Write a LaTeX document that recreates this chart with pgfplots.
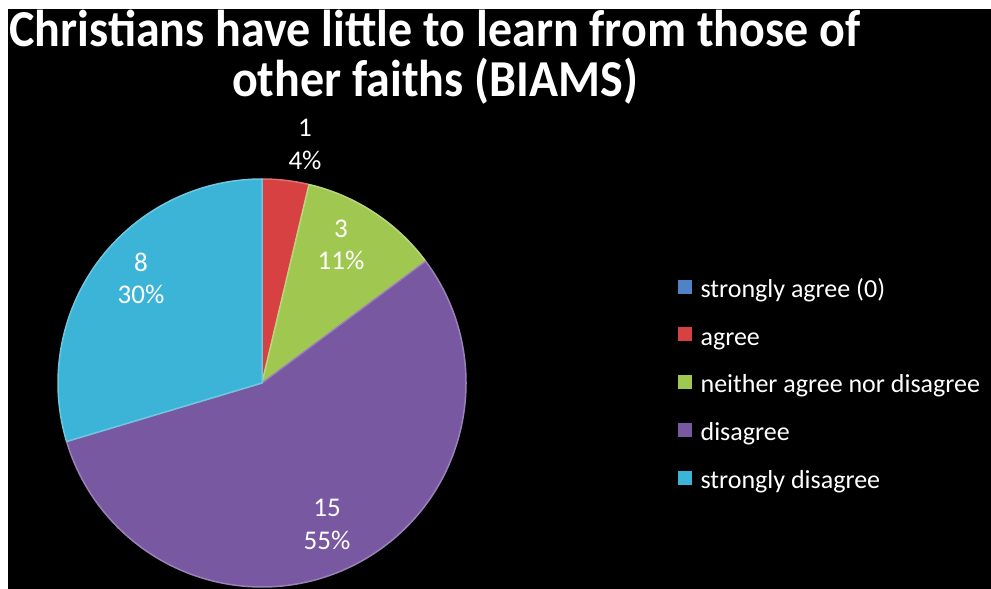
\documentclass[border=0pt]{standalone}
\usepackage{pgfplots}
\pgfplotsset{compat=1.18}
\usepackage{fontspec}
\setmainfont{Carlito}

\definecolor{cblue}{RGB}{80,130,200}
\definecolor{cred}{RGB}{215,65,65}
\definecolor{cgreen}{RGB}{160,200,80}
\definecolor{cpurple}{RGB}{120,88,160}
\definecolor{ccyan}{RGB}{60,180,215}

\begin{document}
\begin{tikzpicture}
\begin{axis}[
    width=991pt, height=589pt,
    scale only axis,
    xmin=0, xmax=991,
    ymin=0, ymax=589,
    hide axis,
    clip=false,
    legend image code/.code={\fill[#1] (0pt,-2pt) rectangle (15pt,13pt);},
    legend cell align=left,
    legend style={
        draw=none, fill=none, text=white,
        font=\fontsize{26}{26}\selectfont,
        at={(axis cs:677,203)}, anchor=west,
        inner sep=0pt,
        nodes={inner sep=0pt, text height=16pt, text depth=5pt},
        row sep=24pt,
        /tikz/every odd column/.append style={column sep=8pt},
    },
]
% background: white frame on top and left, black chart area
\fill[white] (axis cs:0,0) rectangle (axis cs:991,589);
\fill[black] (axis cs:8,0) rectangle (axis cs:991,580);

% pie: values 0,1,3,15,8 (total 27), clockwise from 12 o'clock
\def\total{27}
\gdef\acc{90}
\foreach \v/\c in {0/cblue,1/cred,3/cgreen,15/cpurple,8/ccyan}{
  \pgfmathsetmacro\a{\acc}
  \pgfmathsetmacro\b{\acc-360*\v/\total}
  \ifdim\v pt>0pt
  \edef\temp{\noexpand\fill[\c, draw=\c!75!white, line width=1.5pt, line join=round]
    (axis cs:262,206) -- ++(\a:204pt) arc[start angle=\a, end angle=\b, radius=204pt] -- cycle;}
  \temp
  \fi
  \xdef\acc{\b}
}

% data labels
\foreach \x/\ya/\yb/\n/\p in {305/137/170/1/4\%, 341/238/270/3/11\%, 141/272/304/8/30\%, 327/517/550/15/55\%}{
  \edef\temp{\noexpand\node[text=white, anchor=base, inner sep=0pt, font=\noexpand\fontsize{27}{27}\noexpand\selectfont] at (axis cs:\x,589-\ya) {\n};
    \noexpand\node[text=white, anchor=base, inner sep=0pt, font=\noexpand\fontsize{27}{27}\noexpand\selectfont] at (axis cs:\x,589-\yb) {\p};}
  \temp
}

% title
\node[text=white, anchor=base, inner sep=0pt, yscale=1.08, font=\bfseries\fontsize{48}{48}\selectfont] at (axis cs:435,542) {Christians have little to learn from those of};
\node[text=white, anchor=base, inner sep=0pt, yscale=1.08, font=\bfseries\fontsize{48}{48}\selectfont] at (axis cs:435,492) {other faiths (BIAMS)};

\addlegendimage{fill=cblue}
\addlegendentry{strongly agree (0)}
\addlegendimage{fill=cred}
\addlegendentry{agree}
\addlegendimage{fill=cgreen}
\addlegendentry{neither agree nor disagree}
\addlegendimage{fill=cpurple}
\addlegendentry{disagree}
\addlegendimage{fill=ccyan}
\addlegendentry{strongly disagree}
\end{axis}
\pgfresetboundingbox
\path (0,0) rectangle (991pt,589pt);
\end{tikzpicture}
\end{document}
